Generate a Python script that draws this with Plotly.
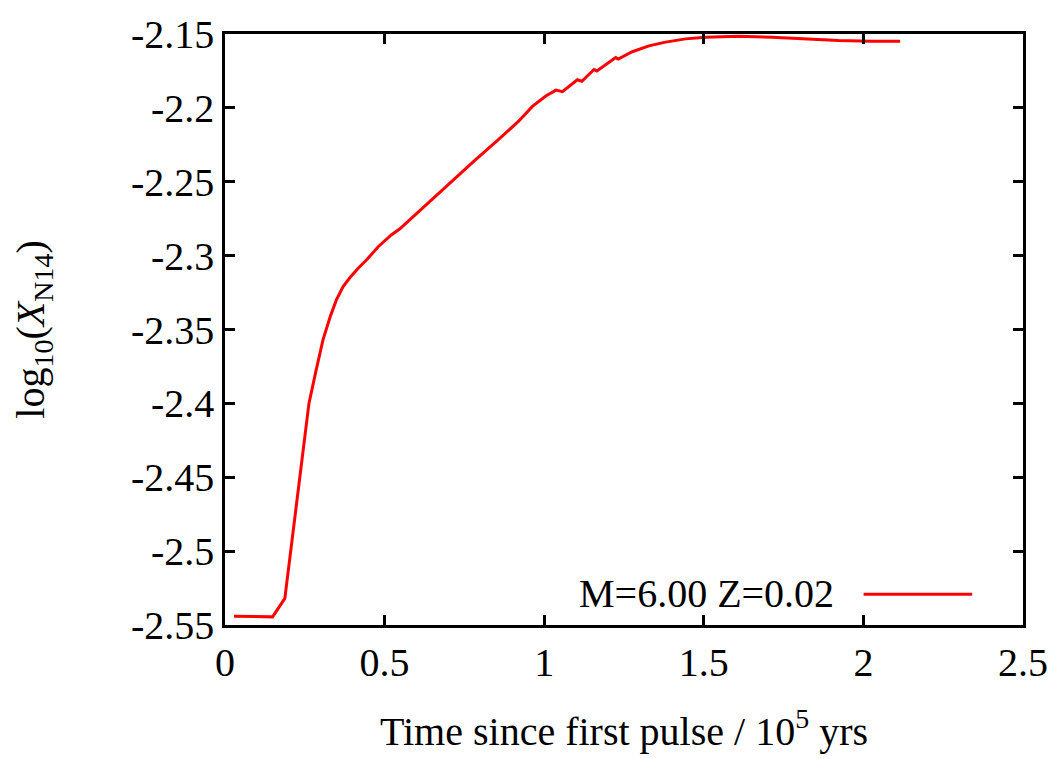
import plotly.graph_objects as go

# Data
time_1e5yr = [0.028, 0.08, 0.14, 0.149, 0.1875, 0.225, 0.263, 0.285, 0.307, 0.33, 0.349, 0.37, 0.391,
              0.415, 0.443, 0.48, 0.521, 0.547, 0.625, 0.703, 0.78, 0.859, 0.92, 0.963, 1.005, 1.037, 1.057,
              1.104, 1.118, 1.156, 1.165, 1.224, 1.232, 1.276, 1.328, 1.38, 1.443, 1.505,
              1.609, 1.714, 1.818, 1.922, 2.026, 2.115]
log_xn14 = [-2.544, -2.544, -2.544, -2.5445, -2.532, -2.466, -2.400, -2.378, -2.357, -2.341, -2.330, -2.321, -2.315,
            -2.309, -2.303, -2.294, -2.286, -2.282, -2.2665, -2.251, -2.236, -2.221, -2.209, -2.199, -2.192, -2.188, -2.189,
            -2.181, -2.182, -2.174, -2.175, -2.166, -2.167, -2.162, -2.158, -2.1555, -2.1533, -2.1522,
            -2.1516, -2.1522, -2.1533, -2.1544, -2.1549, -2.1549]
series_name = "M=6.00 Z=0.02"

x_tickvals = [0, 0.5, 1, 1.5, 2, 2.5]
x_ticktext = ["0", "0.5", "1", "1.5", "2", "2.5"]
y_tickvals = [-2.55, -2.5, -2.45, -2.4, -2.35, -2.3, -2.25, -2.2, -2.15]
y_ticktext = ["-2.55", "-2.5", "-2.45", "-2.4", "-2.35", "-2.3", "-2.25", "-2.2", "-2.15"]

FONT = "Liberation Serif, Times New Roman, serif"
FS = 40

fig = go.Figure()
fig.add_trace(go.Scatter(x=time_1e5yr, y=log_xn14, mode="lines", name=series_name,
                         line=dict(color="#ff0000", width=3), showlegend=False))

axis_common = dict(showgrid=False, zeroline=False, showline=True, linecolor="black", linewidth=2.5,
                   mirror="ticks", ticks="inside", ticklen=10, tickwidth=2.5, tickcolor="black",
                   tickfont=dict(family=FONT, size=FS, color="black"))

fig.update_xaxes(range=[0, 2.5], tickvals=x_tickvals, ticktext=x_ticktext,
                 title=dict(text="Time since first pulse / 10<sup>5</sup> yrs",
                            font=dict(family=FONT, size=FS, color="black"), standoff=34),
                 **axis_common)
fig.update_yaxes(range=[-2.55, -2.15], tickvals=y_tickvals, ticktext=y_ticktext,
                 title=dict(text="log<sub>10</sub>(<i>X</i><sub>N14</sub>)",
                            font=dict(family=FONT, size=FS, color="black"), standoff=74),
                 **axis_common)

# Legend (gnuplot style: text left, sample line right)
fig.add_annotation(xref="paper", yref="paper", x=(838 - 225) / 801, y=(629 - 597) / 604,
                   text=series_name, showarrow=False, xanchor="right", yanchor="middle",
                   font=dict(family=FONT, size=FS, color="black"))
fig.add_shape(type="line", xref="paper", yref="paper",
              x0=(866 - 225) / 801, x1=(975 - 225) / 801,
              y0=(629 - 597.7) / 604, y1=(629 - 597.7) / 604,
              line=dict(color="#ff0000", width=3))

fig.update_layout(width=1060, height=759, margin=dict(l=225, r=34, t=25, b=130),
                  plot_bgcolor="white", paper_bgcolor="white",
                  font=dict(family=FONT, size=FS, color="black"))

fig.write_html("out.html")
